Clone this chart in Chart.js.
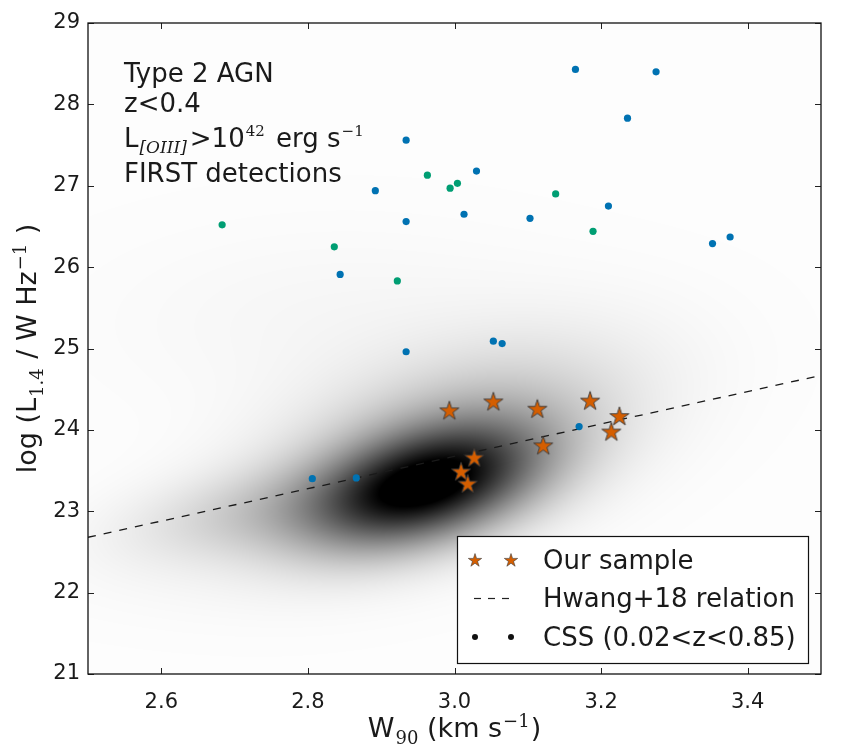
<!DOCTYPE html>
<html><head><meta charset="utf-8">
<script src="https://cdn.jsdelivr.net/npm/chart.js@4.4.1/dist/chart.umd.min.js"></script>
<style>html,body{margin:0;padding:0;background:#fff;}#wrap{width:865px;height:750px;position:relative;}</style>
</head><body><div id="wrap"><canvas id="c" width="865" height="750"></canvas></div>
<script>
// ---------------- data ----------------
const cssBlueX = [3.165, 3.275, 3.236, 3.030, 3.013, 3.103, 3.210, 3.352, 3.376, 2.934, 2.892, 2.934, 2.844, 2.934, 3.053, 3.065, 3.170, 2.806, 2.866];
const cssBlueY = [28.43, 28.40, 27.83, 27.18, 26.65, 26.60, 26.75, 26.29, 26.37, 27.56, 26.94, 26.56, 25.91, 24.96, 25.09, 25.06, 24.04, 23.40, 23.41];
const cssGreenX = [2.963, 2.994, 3.004, 3.138, 3.189, 2.683, 2.836, 2.922];
const cssGreenY = [27.13, 26.97, 27.03, 26.90, 26.44, 26.52, 26.25, 25.83];
const sampleX = [2.993, 3.053, 3.113, 3.185, 3.225, 3.214, 3.121, 3.027, 3.009, 3.018];
const sampleY = [24.24, 24.35, 24.26, 24.36, 24.17, 23.98, 23.81, 23.66, 23.49, 23.34];
const hwangX = [2.5, 3.5];
const hwangY = [22.68, 24.67];
const xTickValues = [2.6, 2.8, 3.0, 3.2, 3.4];
const yTickValues = [21, 22, 23, 24, 25, 26, 27, 28, 29];
// background density (sum of gaussian components, data units)
const kdeCx  = [2.96, 2.99, 2.72, 2.85, 2.66];
const kdeCy  = [23.30, 23.80, 22.98, 25.30, 22.20];
const kdeSx  = [0.105, 0.16, 0.12, 0.22, 0.15];
const kdeSy  = [0.50, 0.80, 0.40, 0.80, 0.40];
const kdeRho = [0.42, 0.45, 0.40, 0.00, 0.20];
const kdeW   = [0.82, 0.26, 0.13, 0.025, 0.012];
const kdeSat = 0.92;

const pts = (xs, ys) => xs.map((x, i) => ({x: x, y: ys[i]}));

// ---------------- helpers ----------------
const SANS = '"DejaVu Sans", sans-serif';
const SERIF = '"DejaVu Serif", serif';
function starPath(g, cx, cy, R, r) {
  g.beginPath();
  for (let k = 0; k < 10; k++) {
    const rad = k % 2 === 0 ? R : r;
    const a = -Math.PI / 2 + k * Math.PI / 5;
    const px = cx + rad * Math.cos(a), py = cy + rad * Math.sin(a);
    if (k === 0) g.moveTo(px, py); else g.lineTo(px, py);
  }
  g.closePath();
}
function makeStar(R, lw) {
  const s = Math.ceil(2 * R + 2 * lw + 4);
  const c = document.createElement('canvas'); c.width = s; c.height = s;
  const g = c.getContext('2d');
  starPath(g, s / 2, s / 2 + R * 0.08, R, R * 0.382);
  g.fillStyle = '#D55E00'; g.fill();
  g.lineWidth = lw; g.strokeStyle = '#3a3a3a'; g.lineJoin = 'miter'; g.stroke();
  return c;
}
const starImg = makeStar(10, 0.9);
const starLegend = makeStar(7, 0.6);

function richWidth(ctx, parts) {
  let w = 0;
  for (const p of parts) { ctx.font = p.f; w += ctx.measureText(p.t).width + (p.gap || 0); }
  return w;
}
function drawRich(ctx, x, y, parts) {
  let cx = x;
  for (const p of parts) {
    ctx.font = p.f;
    ctx.fillText(p.t, cx, y + (p.dy || 0));
    cx += ctx.measureText(p.t).width + (p.gap || 0);
  }
}

// ---------------- plugins ----------------
const densityPlugin = {
  id: 'density',
  beforeDatasetsDraw(chart) {
    const {ctx, chartArea: a, scales: {x, y}} = chart;
    const w = Math.round(a.right - a.left), h = Math.round(a.bottom - a.top);
    const off = document.createElement('canvas'); off.width = w; off.height = h;
    const g = off.getContext('2d');
    const img = g.createImageData(w, h);
    const xv = new Float64Array(w), yv = new Float64Array(h);
    for (let i = 0; i < w; i++) xv[i] = x.getValueForPixel(a.left + i + 0.5);
    for (let j = 0; j < h; j++) yv[j] = y.getValueForPixel(a.top + j + 0.5);
    const n = kdeCx.length;
    for (let j = 0; j < h; j++) {
      for (let i = 0; i < w; i++) {
        let d = 0;
        for (let k = 0; k < n; k++) {
          const u = (xv[i] - kdeCx[k]) / kdeSx[k];
          const v = (yv[j] - kdeCy[k]) / kdeSy[k];
          const r = kdeRho[k];
          const q = (u * u - 2 * r * u * v + v * v) / (1 - r * r);
          d += kdeW[k] * Math.exp(-0.5 * q);
        }
        const t = Math.min(1, d / kdeSat);
        const gray = Math.round(253 * (1 - t));
        const o = (j * w + i) * 4;
        img.data[o] = gray; img.data[o + 1] = gray; img.data[o + 2] = gray; img.data[o + 3] = 255;
      }
    }
    g.putImageData(img, 0, 0);
    ctx.drawImage(off, a.left, a.top);
  }
};

const framePlugin = {
  id: 'frame',
  afterDatasetsDraw(chart) {
    const {ctx, chartArea: a, scales: {x, y}} = chart;
    ctx.save();
    ctx.strokeStyle = '#222'; ctx.lineWidth = 1;
    ctx.beginPath();
    for (const v of xTickValues) {
      const px = Math.round(x.getPixelForValue(v)) + 0.5;
      ctx.moveTo(px, a.bottom); ctx.lineTo(px, a.bottom - 6);
      ctx.moveTo(px, a.top); ctx.lineTo(px, a.top + 6);
    }
    for (const v of yTickValues) {
      const py = Math.round(y.getPixelForValue(v)) + 0.5;
      ctx.moveTo(a.left, py); ctx.lineTo(a.left + 6, py);
      ctx.moveTo(a.right, py); ctx.lineTo(a.right - 6, py);
    }
    ctx.stroke();
    ctx.lineWidth = 1.3; ctx.strokeStyle = '#111';
    ctx.strokeRect(a.left, a.top, a.right - a.left, a.bottom - a.top);
    ctx.restore();
  },
  afterDraw(chart) {
    const {ctx, chartArea: a} = chart;
    ctx.save();
    ctx.fillStyle = '#1a1a1a';
    ctx.textBaseline = 'alphabetic';
    ctx.textAlign = 'left';
    // annotation
    const F = '26px ' + SANS;
    const tx = a.left + 36;
    ctx.font = F;
    ctx.fillText('Type 2 AGN', tx, a.top + 59);
    ctx.fillText('z<0.4', tx, a.top + 89);
    drawRich(ctx, tx, a.top + 124, [
      {t: 'L', f: F, gap: 1},
      {t: '[OIII]', f: 'italic 17px ' + SERIF, dy: 6, gap: 3},
      {t: '>10', f: F, gap: 1},
      {t: '42', f: '15px ' + SERIF, dy: -11, gap: 3},
      {t: ' erg s', f: F, gap: 1},
      {t: '\u22121', f: '15px ' + SERIF, dy: -11}
    ]);
    ctx.font = F;
    ctx.fillText('FIRST detections', tx, a.top + 159);

    // legend
    const lx = a.right - 364, ly = a.bottom - 138, lw = 351, lh = 127;
    ctx.fillStyle = '#fff';
    ctx.fillRect(lx, ly, lw, lh);
    ctx.lineWidth = 1.2; ctx.strokeStyle = '#111';
    ctx.strokeRect(lx + 0.5, ly + 0.5, lw, lh);
    const m1 = lx + 18, m2 = lx + 54, txl = lx + 86;
    const r1 = ly + 24, r2 = ly + 62, r3 = ly + 101;
    ctx.drawImage(starLegend, m1 - starLegend.width / 2, r1 - starLegend.height / 2);
    ctx.drawImage(starLegend, m2 - starLegend.width / 2, r1 - starLegend.height / 2);
    ctx.strokeStyle = '#222'; ctx.lineWidth = 1.2; ctx.setLineDash([7, 7]);
    ctx.beginPath(); ctx.moveTo(m1 - 1, r2 + 0.5); ctx.lineTo(m2 + 1, r2 + 0.5); ctx.stroke();
    ctx.setLineDash([]);
    ctx.fillStyle = '#111';
    ctx.beginPath(); ctx.arc(m1, r3, 3, 0, 2 * Math.PI); ctx.fill();
    ctx.beginPath(); ctx.arc(m2, r3, 3, 0, 2 * Math.PI); ctx.fill();
    ctx.fillStyle = '#1a1a1a';
    ctx.font = F;
    ctx.fillText('Our sample', txl, r1 + 9);
    ctx.fillText('Hwang+18 relation', txl, r2 + 9);
    ctx.fillText('CSS (0.02<z<0.85)', txl, r3 + 9);

    // axis titles
    const T = '27px ' + SANS, S = '18px ' + SERIF;
    const xParts = [
      {t: 'W', f: T, gap: 1},
      {t: '90', f: S, dy: 7, gap: 0},
      {t: ' (km s', f: T, gap: 1},
      {t: '\u22121', f: S, dy: -10, gap: 1},
      {t: ')', f: T}
    ];
    const xw = richWidth(ctx, xParts);
    drawRich(ctx, (a.left + a.right) / 2 - xw / 2, 737, xParts);
    const yParts = [
      {t: 'log (L', f: T, gap: 1},
      {t: '1.4', f: S, dy: 7, gap: 1},
      {t: ' / W Hz', f: T, gap: 1},
      {t: '\u22121', f: S, dy: -10, gap: 1},
      {t: ' )', f: T}
    ];
    const yw = richWidth(ctx, yParts);
    ctx.translate(36, (a.top + a.bottom) / 2);
    ctx.rotate(-Math.PI / 2);
    drawRich(ctx, -yw / 2, 0, yParts);
    ctx.restore();
  }
};

// ---------------- chart ----------------
new Chart(document.getElementById('c'), {
  type: 'scatter',
  data: {
    datasets: [
      {label: 'Our sample', data: pts(sampleX, sampleY), pointStyle: starImg, pointRadius: 10, order: 0},
      {label: 'CSS', data: pts(cssBlueX, cssBlueY), backgroundColor: '#0072B2', borderWidth: 0, pointRadius: 3.6, order: 1},
      {label: 'CSS2', data: pts(cssGreenX, cssGreenY), backgroundColor: '#009E73', borderWidth: 0, pointRadius: 3.6, order: 1},
      {label: 'Hwang+18 relation', data: pts(hwangX, hwangY), showLine: true, pointRadius: 0, borderColor: '#1a1a1a', borderWidth: 1.3, borderDash: [8, 8], order: 2}
    ]
  },
  options: {
    responsive: false, animation: false, devicePixelRatio: 1,
    layout: {padding: {left: 0, top: 23, right: 44, bottom: 0}},
    plugins: {legend: {display: false}, tooltip: {enabled: false}},
    scales: {
      x: {
        type: 'linear', min: 2.5, max: 3.5,
        grid: {display: false, drawTicks: false}, border: {display: false},
        afterBuildTicks: s => { s.ticks = xTickValues.map(v => ({value: v})); },
        afterFit: s => { s.height = 76; },
        ticks: {font: {family: 'DejaVu Sans', size: 21}, color: '#1a1a1a', padding: 16, maxRotation: 0,
                callback: v => Number(v).toFixed(1)}
      },
      y: {
        type: 'linear', min: 21, max: 29,
        grid: {display: false, drawTicks: false}, border: {display: false},
        afterBuildTicks: s => { s.ticks = yTickValues.map(v => ({value: v})); },
        afterFit: s => { s.width = 88; },
        ticks: {font: {family: 'DejaVu Sans', size: 21}, color: '#1a1a1a', padding: 8,
                callback: v => String(v)}
      }
    }
  },
  plugins: [densityPlugin, framePlugin]
});
</script></body></html>
